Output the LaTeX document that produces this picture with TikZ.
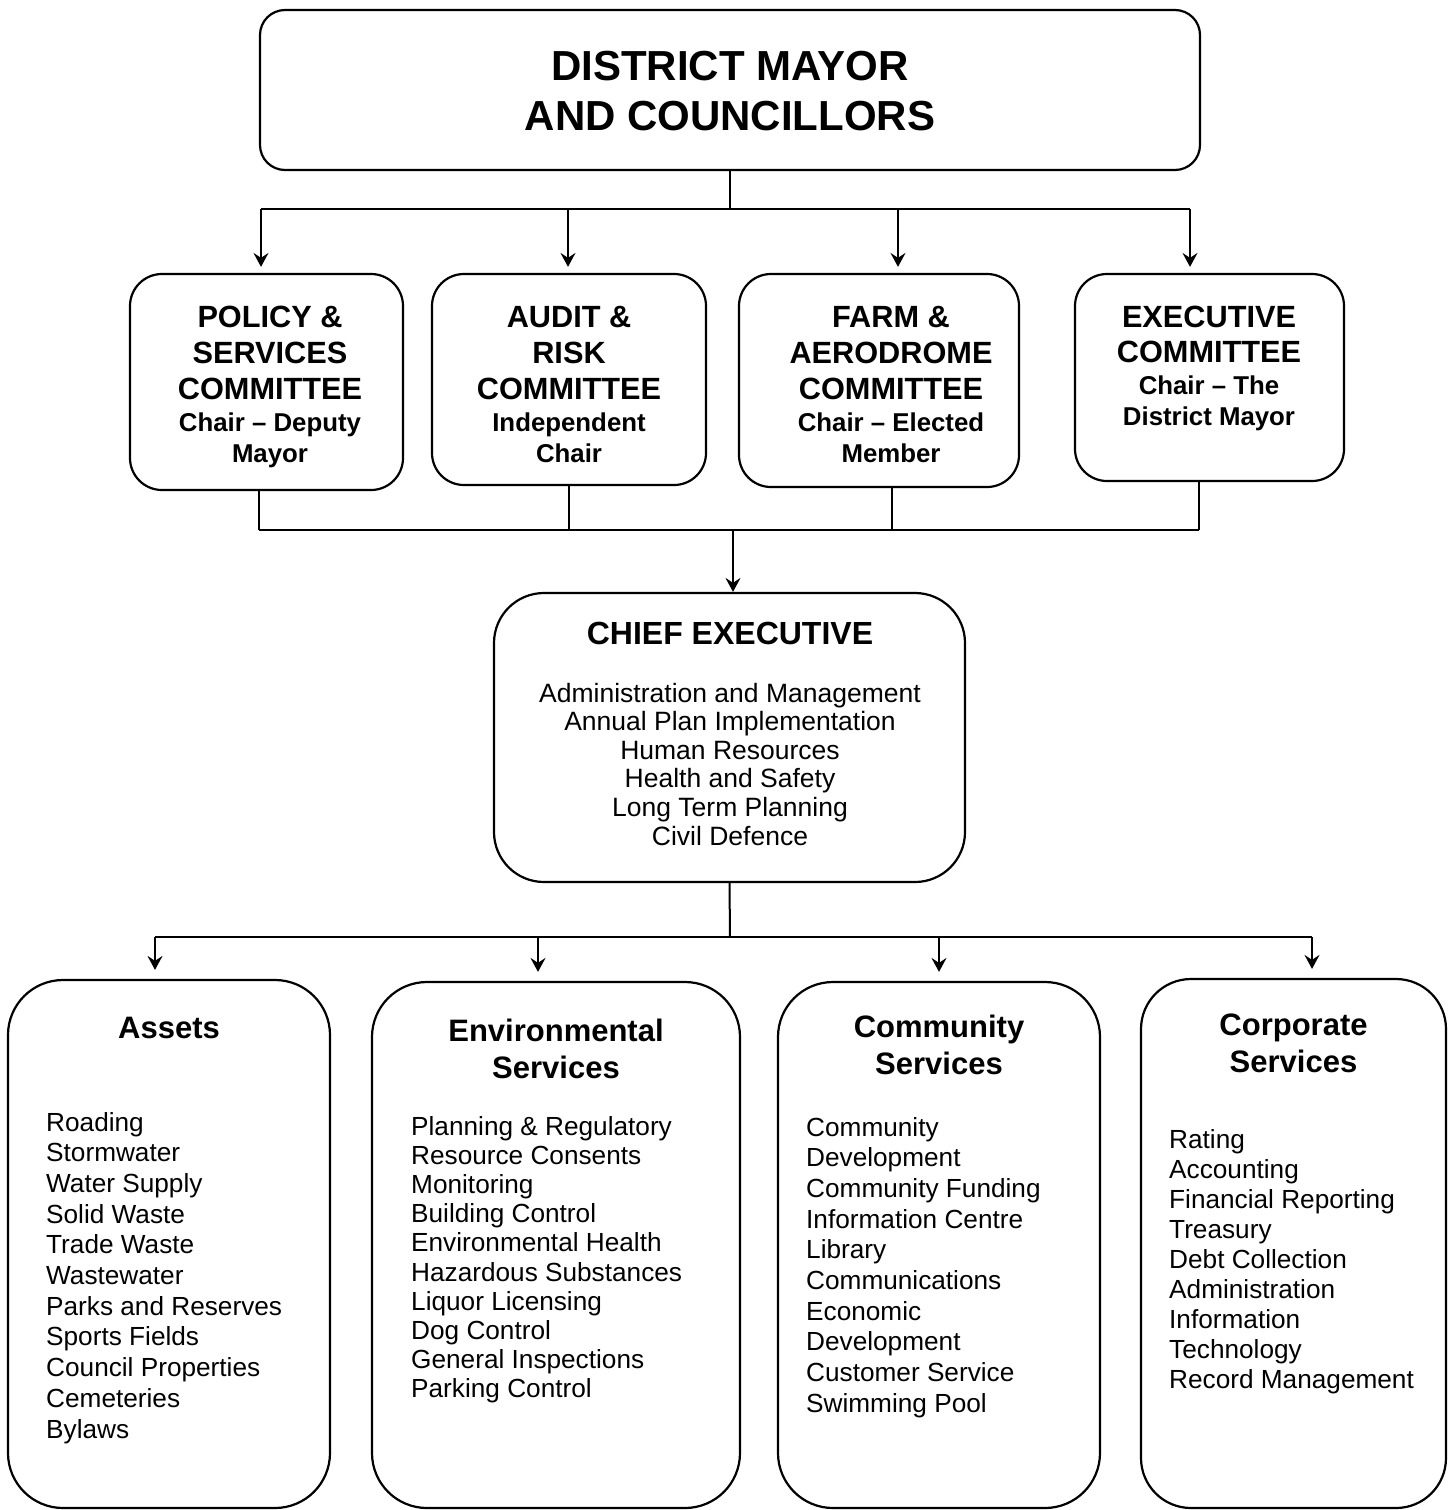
\documentclass[tikz,border=0pt]{standalone}
\usepackage{fontspec}
\setmainfont{Liberation Sans}
\usetikzlibrary{arrows.meta}
\newcommand\fsz[1]{\fontsize{#1}{#1}\selectfont}
\begin{document}
\begin{tikzpicture}[x=1pt,y=-1pt,
  box/.style={draw, line width=2.2pt, inner sep=0pt},
  ln/.style={line width=2pt},
  arr/.style={line width=2pt, -{Stealth[length=14pt,width=15pt,inset=5pt]}},
  bigt/.style={font=\bfseries\fsz{42}, anchor=base, inner sep=0pt},
  ctt/.style={font=\bfseries\fsz{30.7}, anchor=base, inner sep=0pt},
  cst/.style={font=\bfseries\fsz{25.8}, anchor=base, inner sep=0pt},
  cht/.style={font=\bfseries\fsz{32}, anchor=base, inner sep=0pt},
  chl/.style={font=\fsz{26.5}, anchor=base, inner sep=0pt},
  dtt/.style={font=\bfseries\fsz{31}, anchor=base, inner sep=0pt},
  itm/.style={font=\fsz{26.2}, anchor=base west, inner sep=0pt}]
\useasboundingbox (0,0) rectangle (1455,1510);

% top box
\node[box, minimum width=940pt, minimum height=160pt, rounded corners=25pt] (top) at (730,90) {};
\node[bigt] (t1) at (730,80) {DISTRICT MAYOR};
\node[bigt] (t2) at (730,130) {AND COUNCILLORS};

% committee boxes
\node[box, minimum width=273pt, minimum height=216pt, rounded corners=32pt] (c1) at (266.5,382) {};
\node[box, minimum width=274pt, minimum height=211pt, rounded corners=32pt] (c2) at (569,379.5) {};
\node[box, minimum width=280pt, minimum height=213pt, rounded corners=32pt] (c3) at (879,380.5) {};
\node[box, minimum width=269pt, minimum height=207pt, rounded corners=32pt] (c4) at (1209.5,377.5) {};

\node[ctt] (c1a) at (270,327) {POLICY \&};
\node[ctt] (c1b) at (270,363) {SERVICES};
\node[ctt] (c1c) at (270,399) {COMMITTEE};
\node[cst] (c1d) at (270,431) {Chair – Deputy};
\node[cst] (c1e) at (270,462) {Mayor};

\node[ctt] (c2a) at (569,327) {AUDIT \&};
\node[ctt] (c2b) at (569,363) {RISK};
\node[ctt] (c2c) at (569,399) {COMMITTEE};
\node[cst] (c2d) at (569,431) {Independent};
\node[cst] (c2e) at (569,462) {Chair};

\node[ctt] (c3a) at (891,327) {FARM \&};
\node[ctt] (c3b) at (891,363) {AERODROME};
\node[ctt] (c3c) at (891,399) {COMMITTEE};
\node[cst] (c3d) at (891,431) {Chair – Elected};
\node[cst] (c3e) at (891,462) {Member};

\node[ctt] (c4a) at (1209,327) {EXECUTIVE};
\node[ctt] (c4b) at (1209,362) {COMMITTEE};
\node[cst] (c4c) at (1209,394) {Chair – The};
\node[cst] (c4d) at (1209,425) {District Mayor};

% chief executive
\node[box, minimum width=471pt, minimum height=289pt, rounded corners=50pt] (ce) at (729.5,737.5) {};
\node[cht] (cet) at (730,644) {CHIEF EXECUTIVE};
\foreach \t [count=\i] in {Administration and Management, Annual Plan Implementation, Human Resources, Health and Safety, Long Term Planning, Civil Defence}
  \node[chl] (cel\i) at (730,{702+28.6*(\i-1)}) {\t};

% bottom boxes
\node[box, minimum width=322pt, minimum height=528pt, rounded corners=55pt] (d1) at (169,1244) {};
\node[box, minimum width=368pt, minimum height=526pt, rounded corners=55pt] (d2) at (556,1245) {};
\node[box, minimum width=322pt, minimum height=526pt, rounded corners=55pt] (d3) at (939,1245) {};
\node[box, minimum width=305pt, minimum height=529pt, rounded corners=50pt] (d4) at (1293.5,1243.5) {};

\node[dtt] (d1t) at (169,1038) {Assets};
\node[dtt] (d2t) at (556,1041) {Environmental};
\node[dtt] (d2u) at (556,1078) {Services};
\node[dtt] (d3t) at (939,1037) {Community};
\node[dtt] (d3u) at (939,1074) {Services};
\node[dtt] (d4t) at (1293.5,1035) {Corporate};
\node[dtt] (d4u) at (1293.5,1072) {Services};

\foreach \t [count=\i] in {Roading, Stormwater, Water Supply, Solid Waste, Trade Waste, Wastewater, Parks and Reserves, Sports Fields, Council Properties, Cemeteries, Bylaws}
  \node[itm] (a\i) at (46,{1131+30.7*(\i-1)}) {\t};
\foreach \t [count=\i] in {Planning \& Regulatory, Resource Consents, Monitoring, Building Control, Environmental Health, Hazardous Substances, Liquor Licensing, Dog Control, General Inspections, Parking Control}
  \node[itm] (e\i) at (411,{1135+29.2*(\i-1)}) {\t};
\foreach \t [count=\i] in {Community, Development, Community Funding, Information Centre, Library, Communications, Economic, Development, Customer Service, Swimming Pool}
  \node[itm] (m\i) at (806,{1136+30.7*(\i-1)}) {\t};
\foreach \t [count=\i] in {Rating, Accounting, Financial Reporting, Treasury, Debt Collection, Administration, Information, Technology, Record Management}
  \node[itm] (r\i) at (1169,{1148+30.1*(\i-1)}) {\t};

% connectors: mayor to committees
\coordinate (j0) at (730,209);
\coordinate (jL) at (261,209);
\coordinate (jB) at (568,209);
\coordinate (jC) at (898,209);
\coordinate (jR) at (1190,209);
\draw[ln] (top.south) -- (j0);
\draw[ln] (jL) -- (jR);
\draw[arr, shorten >=6pt] (jL) -- (jL |- c1.north);
\draw[arr, shorten >=6pt] (jB) -- (jB |- c2.north);
\draw[arr, shorten >=6pt] (jC) -- (jC |- c3.north);
\draw[arr, shorten >=6pt] (jR) -- (jR |- c4.north);

% committees to chief executive
\coordinate (k1) at (259,530);
\coordinate (k2) at (569,530);
\coordinate (k3) at (892,530);
\coordinate (k4) at (1199,530);
\coordinate (k0) at (733,530);
\draw[ln] (k1 |- c1.south) -- (k1);
\draw[ln] (k2 |- c2.south) -- (k2);
\draw[ln] (k3 |- c3.south) -- (k3);
\draw[ln] (k4 |- c4.south) -- (k4);
\draw[ln] (k1) -- (k4);
\draw[arr] (k0) -- (k0 |- ce.north);

% chief executive to departments
\coordinate (n0) at (730,937);
\coordinate (n1) at (155,937);
\coordinate (n2) at (538,937);
\coordinate (n3) at (939,937);
\coordinate (n4) at (1312,937);
\draw[ln] (ce.south) -- (n0);
\draw[ln] (n1) -- (n4);
\draw[arr, shorten >=9pt] (n1) -- (n1 |- d1.north);
\draw[arr, shorten >=9pt] (n2) -- (n2 |- d2.north);
\draw[arr, shorten >=9pt] (n3) -- (n3 |- d3.north);
\draw[arr, shorten >=9pt] (n4) -- (n4 |- d4.north);
\end{tikzpicture}
\end{document}
